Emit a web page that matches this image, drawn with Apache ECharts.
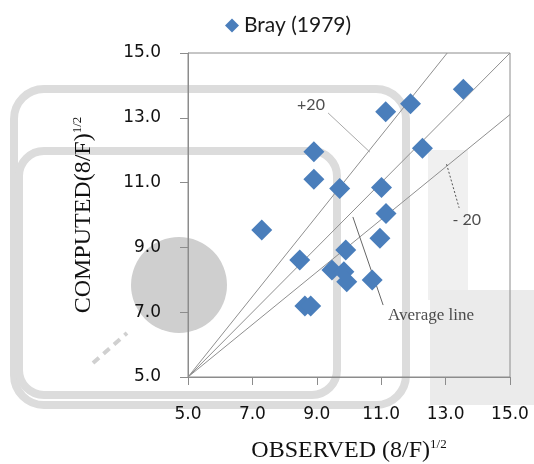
<!DOCTYPE html>
<html><head><meta charset="utf-8">
<script src="https://cdn.jsdelivr.net/npm/echarts@6/dist/echarts.min.js"></script>
<style>html,body{margin:0;padding:0;background:#fff;}#c{width:534px;height:464px;}</style>
</head><body><div id="c"></div>
<script>
// Observed / computed values, Bray (1979)
const observed = [7.29, 8.47, 8.63, 8.81, 8.91, 8.91, 9.71, 11.14, 11.91, 13.55, 12.28, 11.01, 11.15, 10.96, 9.90, 9.47, 9.84, 9.93, 10.72];
const computed = [9.54, 8.61, 7.19, 7.19, 11.95, 11.10, 10.82, 13.19, 13.43, 13.88, 12.06, 10.85, 10.05, 9.28, 8.92, 8.30, 8.25, 7.94, 7.99];
const seriesName = 'Bray (1979)';
const tickValues = [5, 7, 9, 11, 13, 15];
// reference lines (data coordinates)
const averageLine = [[5, 5], [15, 15]];
const plus20Line = [[5, 5], [13.05, 15]];
const minus20Line = [[5, 5], [15, 13.1]];
// annotations (data coordinates)
const plus20Leader = [[9.35, 13.15], [10.65, 11.94]];
const minus20Leader = [[13.03, 11.57], [13.42, 10.22]];
const avgLeader = [[10.12, 9.94], [11.06, 7.22]];
const annotations = [
  {text: '+20', pos: [8.82, 13.40], align: 'center'},
  {text: '- 20', pos: [13.66, 9.85], align: 'center'},
  {text: 'Average line', pos: [11.21, 6.91], align: 'left'}
];

const chart = echarts.init(document.getElementById('c'));
const wm = '#dcdcdc';
const lineStyle = (c, w, t) => ({color: c, width: w, type: t || 'solid'});
const refSeries = (data, ls) => ({type: 'line', data: data, symbol: 'none', lineStyle: ls, silent: true, z: 3, animation: false, legendHoverLink: false});

chart.setOption({
  animation: false,
  graphic: [
    {type: 'rect', z: -10, shape: {x: 14, y: 89, width: 392, height: 316, r: 30}, style: {fill: 'none', stroke: wm, lineWidth: 8}},
    {type: 'rect', z: -10, shape: {x: 19, y: 151, width: 318, height: 244, r: 25}, style: {fill: 'none', stroke: wm, lineWidth: 8}},
    {type: 'circle', z: -10, shape: {cx: 179, cy: 285, r: 48}, style: {fill: '#cfcfcf'}},
    {type: 'rect', z: -11, shape: {x: 428, y: 150, width: 40, height: 150}, style: {fill: '#f0f0f0'}},
    {type: 'rect', z: -11, shape: {x: 430, y: 290, width: 104, height: 115}, style: {fill: '#ebebeb'}},
    {type: 'line', z: -10, shape: {x1: 93, y1: 363, x2: 127, y2: 333}, style: {stroke: '#d0d0d0', lineWidth: 4, lineDash: [8, 6]}}
  ],
  legend: {
    data: [seriesName], left: 220, top: 10, icon: 'diamond', itemWidth: 14, itemHeight: 14, itemGap: 6,
    textStyle: {fontFamily: 'Lato', fontSize: 21, color: '#1a1a1a'}
  },
  grid: {left: 188, top: 53, right: 24, bottom: 87, containLabel: false, outerBoundsMode: 'none', show: true, borderColor: '#8c8c8c', borderWidth: 1, backgroundColor: 'transparent'},
  xAxis: {
    type: 'value', min: 5, max: 15, interval: 2,
    axisLine: {lineStyle: {color: '#8c8c8c'}},
    axisTick: {show: true, length: 8, inside: false, lineStyle: {color: '#8c8c8c'}},
    splitLine: {show: false},
    axisLabel: {margin: 29, fontFamily: 'DejaVu Sans', fontSize: 17, color: '#111', formatter: v => tickValues.includes(v) ? v.toFixed(1) : ''},
    name: '{a|OBSERVED (8/F)}{s|1/2}', nameLocation: 'middle', nameGap: 61,
    nameTextStyle: {rich: {
      a: {fontFamily: 'Liberation Serif', fontSize: 24, color: '#111'},
      s: {fontFamily: 'Liberation Serif', fontSize: 13, color: '#111', verticalAlign: 'bottom', padding: [0, 0, 12, 0]}
    }}
  },
  yAxis: {
    type: 'value', min: 5, max: 15, interval: 2,
    axisLine: {show: true, lineStyle: {color: '#8c8c8c'}},
    axisTick: {show: true, length: 8, inside: false, lineStyle: {color: '#8c8c8c'}},
    splitLine: {show: false},
    axisLabel: {margin: 27, fontFamily: 'DejaVu Sans', fontSize: 17, color: '#111', formatter: v => tickValues.includes(v) ? v.toFixed(1) : ''},
    name: '{a|COMPUTED(8/F)}{s|1/2}', nameLocation: 'middle', nameGap: 92, nameRotate: 90,
    nameTextStyle: {rich: {
      a: {fontFamily: 'Liberation Serif', fontSize: 24, color: '#111'},
      s: {fontFamily: 'Liberation Serif', fontSize: 13, color: '#111', verticalAlign: 'bottom', padding: [0, 0, 12, 0]}
    }}
  },
  series: [
    refSeries(plus20Line, lineStyle('#8f8f8f', 1)),
    refSeries(averageLine, lineStyle('#8f8f8f', 1)),
    refSeries(minus20Line, lineStyle('#8f8f8f', 1)),
    refSeries(plus20Leader, lineStyle('#a8a8a8', 1)),
    refSeries(minus20Leader, lineStyle('#555', 1, [2, 2])),
    refSeries(avgLeader, lineStyle('#666', 1)),
    {
      name: seriesName, type: 'scatter', symbol: 'diamond', symbolSize: 21, z: 5,
      itemStyle: {color: '#4a7ebb', opacity: 1},
      data: observed.map((x, i) => [x, computed[i]])
    },
    {
      type: 'scatter', symbolSize: 0, silent: true, z: 6,
      data: annotations.map(a => ({value: a.pos, label: {show: true, position: 'inside', formatter: a.text, align: a.align,
        fontFamily: a.text === 'Average line' ? 'Liberation Serif' : 'Lato', fontSize: a.text === 'Average line' ? 17 : 16, color: '#222'}}))
    }
  ]
});
</script></body></html>
